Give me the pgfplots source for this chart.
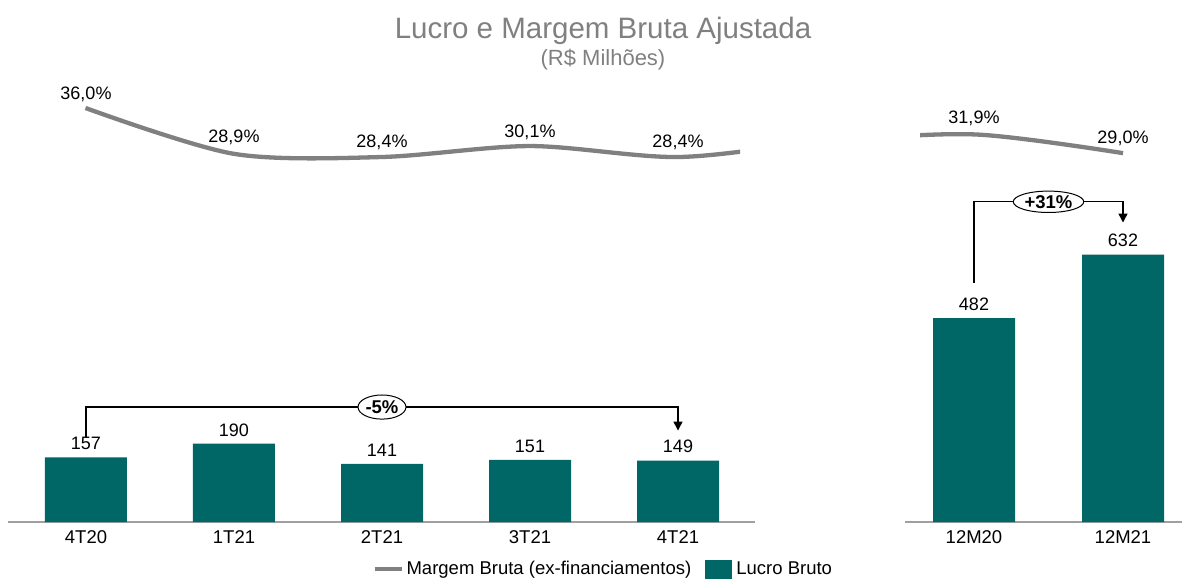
\documentclass[border=0pt]{standalone}
\usepackage{fontspec}
\setmainfont{Liberation Sans}
\usepackage{pgfplots}
\pgfplotsset{compat=1.18}
\usetikzlibrary{shapes.geometric,arrows.meta}
\definecolor{teal1}{RGB}{0,102,102}
\definecolor{gline}{RGB}{128,128,128}
\definecolor{gtitle}{RGB}{128,128,128}
\definecolor{gaxis}{RGB}{160,160,160}
\newcommand{\fs}[1]{\fontsize{#1}{#1}\selectfont}
\pgfplotstableread{
x  m
0  36.0
1  28.9
2  28.4
3  30.1
4  28.4
5  30.8
6  31.9
7  29.0
}\margem
\begin{document}
\begin{tikzpicture}
\useasboundingbox (0,0) rectangle (1182pt,578pt);
% title
\node[anchor=base,text=gtitle,font=\fs{29.5}] at (603pt,539pt) {Lucro e Margem Bruta Ajustada};
\node[anchor=base,text=gtitle,font=\fs{22}] at (603pt,512pt) {(R\$ Milhões)};

% ---------- left bars ----------
\begin{axis}[
  at={(8pt,56pt)}, anchor=south west,
  x=148pt, y=0.412pt,
  xmin=-0.527, xmax=4.52, ymin=0, ymax=1000,
  axis x line=bottom, axis y line=none,
  x axis line style={gaxis, line width=1.5pt, -},
  xtick={0,1,2,3,4}, xticklabels={4T20,1T21,2T21,3T21,4T21},
  major tick length=0,
  xticklabel style={font=\fs{18.5}, yshift=-5pt},
  clip=false,
  /pgf/number format/assume math mode=true,
  nodes near coords,
  every node near coord/.append style={font=\fs{18}, text=black, yshift=4pt},
  legend style={at={(axis cs:1.935,-124)}, anchor=west, draw=none, fill=none,
    legend columns=2, font=\fs{18.5}, inner sep=0pt, column sep=0pt},
  legend cell align=left,
]
\addlegendimage{legend image code/.code={\draw[gline, line width=4pt] (0pt,0pt) -- (27pt,0pt);}}
\addlegendentry{\kern1pt Margem Bruta (ex-financiamentos)\kern12pt}
\addplot[ybar, bar width=82pt, fill=teal1, draw=none,
  legend image code/.code={\fill[teal1] (0pt,-18pt) rectangle (27pt,9pt);}]
  coordinates {(0,157) (1,190) (2,141) (3,151) (4,149)};
\addlegendentry{\kern2pt Lucro Bruto}
% percentage labels
\node[anchor=base, font=\fs{18}] at (axis cs:0,1026) {36,0\%};
\node[anchor=base, font=\fs{18}] at (axis cs:1,920) {28,9\%};
\node[anchor=base, font=\fs{18}] at (axis cs:2,910) {28,4\%};
\node[anchor=base, font=\fs{18}] at (axis cs:3,934) {30,1\%};
\node[anchor=base, font=\fs{18}] at (axis cs:4,910) {28,4\%};
% bracket
\draw[line width=1.4pt, -{Triangle[length=9pt,width=9pt]}]
  (axis cs:0,206) -- (axis cs:0,279) -- (axis cs:4,279) -- (axis cs:4,222);
\node[ellipse, draw, line width=1pt, fill=white, inner xsep=0.5pt, inner ysep=2pt, font=\bfseries\fs{18.5}]
  at (axis cs:2,279) {-5\%};
\end{axis}

% ---------- left line (clipped at panel edge) ----------
\begin{axis}[
  at={(11.4pt,366.8pt)}, anchor=south west,
  x=148.2pt, y=6.45pt,
  xmin=-0.5, xmax=4.417, ymin=20, ymax=45,
  hide axis, clip=true,
]
\addplot[gline, line width=4.3pt, smooth, tension=0.5] table[x=x,y=m] {\margem};
\end{axis}

% ---------- right bars ----------
\begin{axis}[
  at={(905pt,56pt)}, anchor=south west,
  x=149pt, y=0.423pt,
  xmin=-0.463, xmax=1.396, ymin=0, ymax=1000,
  axis x line=bottom, axis y line=none,
  x axis line style={gaxis, line width=1.5pt, -},
  xtick={0,1}, xticklabels={12M20,12M21},
  major tick length=0,
  xticklabel style={font=\fs{18.5}, yshift=-5pt},
  clip=false,
  /pgf/number format/assume math mode=true,
  nodes near coords,
  every node near coord/.append style={font=\fs{18}, text=black, yshift=4pt},
]
\addplot[ybar, bar width=82pt, fill=teal1, draw=none]
  coordinates {(0,482) (1,632)};
\node[anchor=base, font=\fs{18}] at (axis cs:0,941) {31,9\%};
\node[anchor=base, font=\fs{18}] at (axis cs:1,894) {29,0\%};
\draw[line width=1.4pt, -{Triangle[length=9pt,width=9pt]}]
  (axis cs:0,565) -- (axis cs:0,757) -- (axis cs:1,757) -- (axis cs:1,708);
\node[ellipse, draw, line width=1pt, fill=white, inner xsep=1pt, inner ysep=1pt, font=\bfseries\fs{18.5}]
  at (axis cs:0.5,757) {+31\%};
\end{axis}

% ---------- right line (clipped at panel edge) ----------
\begin{axis}[
  at={(920pt,366.8pt)}, anchor=south west,
  x=148.2pt, y=6.45pt,
  xmin=5.630, xmax=7.5, ymin=20, ymax=45,
  hide axis, clip=true,
]
\addplot[gline, line width=4.3pt, smooth, tension=0.5] table[x=x,y=m] {\margem};
\end{axis}
\end{tikzpicture}
\end{document}
